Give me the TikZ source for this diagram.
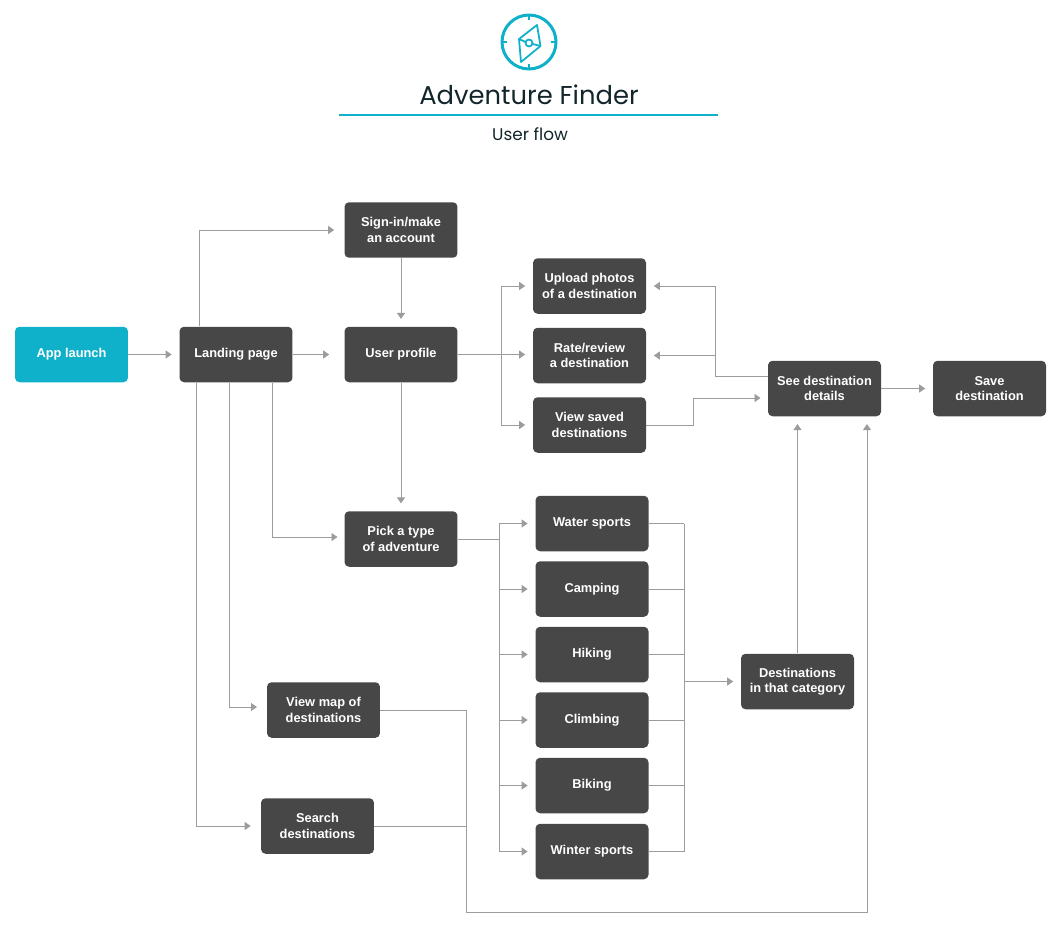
\documentclass[tikz,border=0pt]{standalone}
\usepackage{xcolor}
\usepackage{fontspec}
\setmainfont{Liberation Sans}
\newfontfamily\titlefont{Poppins}
\usetikzlibrary{arrows.meta}
\definecolor{boxgrey}{HTML}{474747}
\definecolor{linegrey}{HTML}{9C9C9C}
\definecolor{teal}{HTML}{0FB0C9}
\definecolor{titleink}{HTML}{12262B}
\tikzset{
	stepbox/.style={fill=boxgrey,text=white,rounded corners=0.09cm,minimum width=2.26cm,minimum height=1.11cm,inner sep=0pt,align=center,font=\fontsize{7.3}{8.8}\selectfont\bfseries},
	startbox/.style={stepbox,fill=teal},
	plain/.style={draw=linegrey,line width=0.5pt},
	flow/.style={plain,-{Triangle[length=0.12cm,width=0.16cm,fill=linegrey]},shorten >=0.15cm},
	farflow/.style={flow,shorten >=0.2cm}
}
\begin{document}
\begin{tikzpicture}[x=0.02cm,y=-0.02cm]
	\useasboundingbox (0,0) rectangle (1060,933);
	\draw[teal,line width=1.7pt] (529,42) circle (27);
	\draw[teal,line width=0.8pt] (529,15) -- (529,20) (529,69) -- (529,64) (502,42) -- (507,42) (556,42) -- (551,42);
	\draw[teal,line width=1pt,line join=round] (537,25) -- (519,39) -- (521,62) -- (540.5,46) -- cycle;
	\draw[teal,line width=1pt] (519,39) -- (525.5,42) (532.5,44) -- (540.5,46);
	\draw[teal,line width=1pt] (529,43) circle (3.5);
	\node (title) at (529,95) {\titlefont\fontsize{14.7}{18}\selectfont\color{titleink}Adventure Finder};
	\coordinate (ruleleft) at (339,115);
	\coordinate (ruleright) at (718,115);
	\draw[teal,line width=1pt] (ruleleft) -- (ruleright);
	\node (subtitle) at (530,134) {\titlefont\fontsize{9.6}{12}\selectfont\color{titleink}User flow};

	\node[startbox] (applaunch) at (71.5,354.5) {App launch};
	\node[stepbox] (landing) at (236,354.5) {Landing page};
	\node[stepbox] (signin) at (401,230) {Sign-in/make\\an account};
	\node[stepbox] (profile) at (401,354.5) {User profile};
	\node[stepbox] (upload) at (589.5,286) {Upload photos\\of a destination};
	\node[stepbox] (rate) at (589.5,355.5) {Rate/review\\a destination};
	\node[stepbox] (saved) at (589.5,425) {View saved\\destinations};
	\node[stepbox] (details) at (824.5,388.5) {See destination\\details};
	\node[stepbox] (save) at (989.5,388.5) {Save\\destination};
	\node[stepbox] (pick) at (401,539) {Pick a type\\of adventure};
	\node[stepbox] (water) at (592,523.5) {Water sports};
	\node[stepbox] (camping) at (592,589) {Camping};
	\node[stepbox] (hiking) at (592,654.5) {Hiking};
	\node[stepbox] (climbing) at (592,720) {Climbing};
	\node[stepbox] (biking) at (592,785.5) {Biking};
	\node[stepbox] (winter) at (592,851.5) {Winter sports};
	\node[stepbox] (category) at (797.5,681.5) {Destinations\\in that category};
	\node[stepbox] (map) at (323.5,710) {View map of\\destinations};
	\node[stepbox] (search) at (317.5,826) {Search\\destinations};

	\coordinate (laneup) at (199,0);
	\coordinate (lanepick) at (272,0);
	\coordinate (lanemap) at (229,0);
	\coordinate (lanesearch) at (196,0);
	\coordinate (laneprofile) at (501,0);
	\coordinate (lanesaved) at (693,0);
	\coordinate (lanedetails) at (715,0);
	\coordinate (laneleft) at (499,0);
	\coordinate (laneright) at (684,0);
	\coordinate (lanebottom) at (466,0);
	\coordinate (laneup2) at (867,0);
	\coordinate (floor) at (0,912);
	\coordinate (detailsout) at (768,376);
	\coordinate (detailsin) at (768,398);
	\coordinate (pickin) at (345,537);
	\coordinate (mapin) at (267,707);

	\draw[flow] (applaunch) -- (landing);
	\draw[flow,shorten >=0.3cm] (landing) -- (profile);
	\draw[flow] (signin) -- (profile);
	\draw[flow] (profile) -- (pick);
	\draw[flow] (details) -- (save);
	\draw[flow] (category.north) -- (category |- details.south);
	\draw[flow] (profile.east) -- (rate.west |- profile);
	\draw[farflow] (laneup |- landing.north) |- (signin.west);
	\draw[flow] (lanepick |- landing.south) |- (pickin);
	\draw[farflow] (lanemap |- landing.south) |- (mapin);
	\draw[farflow] (lanesearch |- landing.south) |- (search.west);
	\draw[flow] (laneprofile |- profile) |- (upload.west);
	\draw[flow] (laneprofile |- profile) |- (saved.west);
	\draw[flow] (saved.east) -- (lanesaved |- saved) -- (lanesaved |- detailsin) -- (detailsin);
	\draw[flow] (detailsout) -- (lanedetails |- detailsout) |- (upload.east);
	\draw[flow] (lanedetails |- rate) -- (rate.east);
	\draw[plain] (pick.east) -- (laneleft |- pick);
	\draw[plain] (laneleft |- water) -- (laneleft |- winter);
	\foreach \sport in {water,camping,hiking,climbing,biking,winter}
		\draw[flow] (laneleft |- \sport) -- (\sport.west);
	\foreach \sport in {water,camping,hiking,climbing,biking,winter}
		\draw[plain] (\sport.east) -- (laneright |- \sport);
	\draw[plain] (laneright |- water) -- (laneright |- winter);
	\draw[flow] (laneright |- category) -- (category.west);
	\draw[flow] (map.east) -- (lanebottom |- map) -- (lanebottom |- floor) -- (laneup2 |- floor) -- (laneup2 |- details.south);
	\draw[plain] (search.east) -- (lanebottom |- search);
\end{tikzpicture}
\end{document}
